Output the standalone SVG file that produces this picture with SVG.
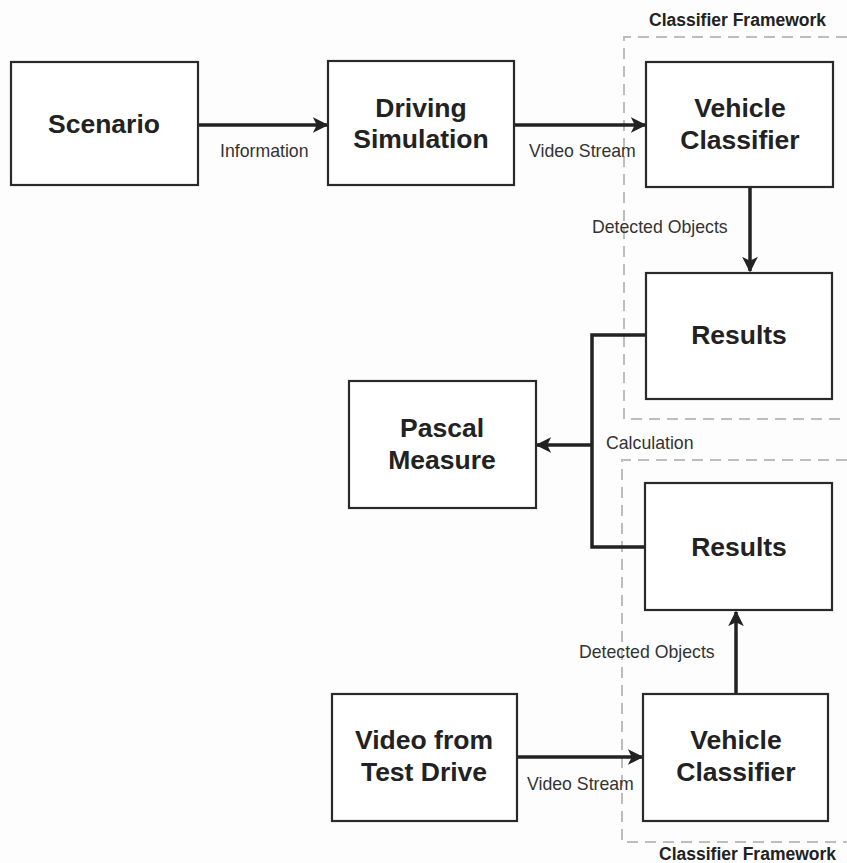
<svg xmlns="http://www.w3.org/2000/svg" width="847" height="863" viewBox="0 0 847 863">
  <style>
    .box { fill: #ffffff; stroke: #2a2a2a; stroke-width: 2.2; }
    .title { font-family: "Liberation Sans", Arial, sans-serif; font-weight: bold; font-size: 26.5px; fill: #222; text-anchor: middle; }
    .lbl { font-family: "Liberation Sans", Arial, sans-serif; font-size: 17.7px; fill: #333; }
    .frame-lbl { font-family: "Liberation Sans", Arial, sans-serif; font-weight: bold; font-size: 17.5px; fill: #222; }
    .frame { fill: none; stroke: #bdbdbd; stroke-width: 2; stroke-dasharray: 11 7; }
    .conn { fill: none; stroke: #222; stroke-width: 3.5; }
  </style>
  <defs>
    <marker id="arrow" viewBox="0 0 10 10" refX="9" refY="5" markerWidth="4.5" markerHeight="4.5" orient="auto" markerUnits="strokeWidth">
      <path d="M0,0 L10,5 L0,10 L2.5,5 Z" fill="#222"/>
    </marker>
  </defs>
  <rect width="847" height="863" fill="#fdfdfd"/>

  <!-- dashed framework outlines -->
  <g id="frameworks">
    <path class="frame" d="M847,37 H624 V419 H847"/>
    <text class="frame-lbl" x="649" y="26">Classifier Framework</text>
    <path class="frame" d="M847,460 H622 V842 H847"/>
    <text class="frame-lbl" x="659" y="860">Classifier Framework</text>
  </g>

  <!-- connectors -->
  <g id="connectors">
    <line class="conn" x1="199" y1="125" x2="327" y2="125" marker-end="url(#arrow)"/>
    <text class="lbl" x="220" y="157">Information</text>
    <line class="conn" x1="515" y1="125" x2="645" y2="125" marker-end="url(#arrow)"/>
    <text class="lbl" x="529" y="157">Video Stream</text>
    <line class="conn" x1="750" y1="188" x2="750" y2="271" marker-end="url(#arrow)"/>
    <text class="lbl" x="592" y="233">Detected Objects</text>
    <path class="conn" d="M646,335 H592 V547 H645"/>
    <line class="conn" x1="592" y1="445" x2="537" y2="445" marker-end="url(#arrow)"/>
    <text class="lbl" x="606" y="449">Calculation</text>
    <line class="conn" x1="736" y1="694" x2="736" y2="612" marker-end="url(#arrow)"/>
    <text class="lbl" x="579" y="658">Detected Objects</text>
    <line class="conn" x1="518" y1="757" x2="642" y2="757" marker-end="url(#arrow)"/>
    <text class="lbl" x="527" y="790">Video Stream</text>
  </g>

  <g id="scenario">
    <rect class="box" x="11" y="62" width="187" height="123"/>
    <text class="title" x="104" y="133">Scenario</text>
  </g>
  <g id="driving-simulation">
    <rect class="box" x="328" y="61" width="186" height="124"/>
    <text class="title" x="421" y="117">Driving</text>
    <text class="title" x="421" y="148">Simulation</text>
  </g>
  <g id="vehicle-classifier-sim">
    <rect class="box" x="646" y="62" width="187" height="125"/>
    <text class="title" x="740" y="117">Vehicle</text>
    <text class="title" x="740" y="149">Classifier</text>
  </g>
  <g id="results-sim">
    <rect class="box" x="646" y="273" width="186" height="126"/>
    <text class="title" x="739" y="344">Results</text>
  </g>
  <g id="pascal-measure">
    <rect class="box" x="349" y="381" width="187" height="127"/>
    <text class="title" x="442" y="437">Pascal</text>
    <text class="title" x="442" y="469">Measure</text>
  </g>
  <g id="results-drive">
    <rect class="box" x="645" y="483" width="187" height="127"/>
    <text class="title" x="739" y="556">Results</text>
  </g>
  <g id="video-test-drive">
    <rect class="box" x="332" y="694" width="185" height="127"/>
    <text class="title" x="424" y="749">Video from</text>
    <text class="title" x="424" y="781">Test Drive</text>
  </g>
  <g id="vehicle-classifier-drive">
    <rect class="box" x="643" y="694" width="185" height="127"/>
    <text class="title" x="736" y="749">Vehicle</text>
    <text class="title" x="736" y="781">Classifier</text>
  </g>
</svg>
